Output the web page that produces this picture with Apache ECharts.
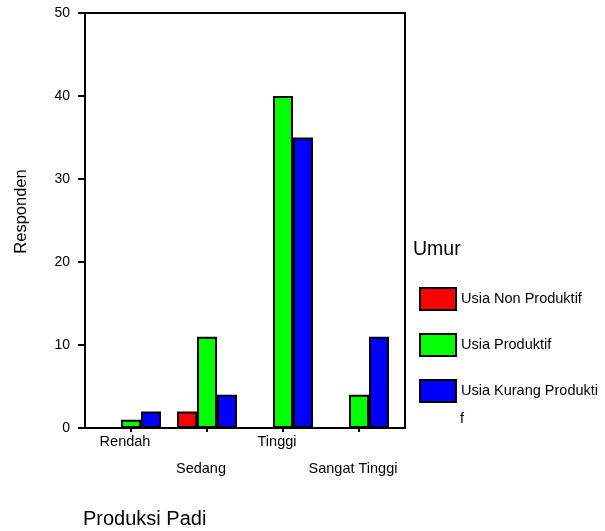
<!DOCTYPE html>
<html>
<head>
<meta charset="utf-8">
<script src="https://cdn.jsdelivr.net/npm/echarts@6/dist/echarts.min.js"></script>
<style>html,body{margin:0;padding:0;background:#fff}#c{width:605px;height:531px}</style>
</head>
<body>
<div id="c"></div>
<script>
const categories = ['Rendah', 'Sedang', 'Tinggi', 'Sangat Tinggi'];
const seriesNames = ['Usia Non Produktif', 'Usia Produktif', 'Usia Kurang Produktif'];
const nonProduktif = [0, 2, 0, 0];
const produktif = [1, 11, 40, 4];
const kurangProduktif = [2, 4, 35, 11];
const yMin = 0, yMax = 50, yStep = 10;
const colors = ['#ff0000', '#00ff00', '#0000ff'];
const values = [nonProduktif, produktif, kurangProduktif];

const FONT = "'Liberation Sans', Arial, sans-serif";
const chart = echarts.init(document.getElementById('c'), null, {renderer: 'canvas'});

const option = {
  backgroundColor: '#ffffff',
  animation: false,
  textStyle: {fontFamily: FONT, color: '#000'},
  title: [
    {text: 'Produksi Padi', left: 83, top: 509, padding: 0,
     textStyle: {fontFamily: FONT, fontSize: 20, fontWeight: 'normal', color: '#000'}},
    {text: 'Umur', left: 413, top: 240, padding: 0,
     textStyle: {fontFamily: FONT, fontSize: 19.5, fontWeight: 'normal', color: '#000'}}
  ],
  graphic: [
    {type: 'text', left: 460, top: 411,
     style: {text: 'f', font: "14.5px 'Liberation Sans', Arial, sans-serif", fill: '#000'}}
  ],
  legend: {
    orient: 'vertical',
    left: 419,
    top: 287,
    padding: 0,
    itemWidth: 36,
    itemHeight: 22,
    itemGap: 22,
    icon: 'rect',
    itemStyle: {borderColor: '#000', borderWidth: 2},
    textStyle: {fontFamily: FONT, fontSize: 14.5, color: '#000'},
    formatter: function (name) {
      return name === 'Usia Kurang Produktif' ? 'Usia Kurang Produkti' : name;
    },
    data: seriesNames
  },
  grid: [
    {left: 85, right: 200, top: 13, bottom: 103, show: true, borderColor: '#000', borderWidth: 2, backgroundColor: 'transparent'},
    {left: 93, right: 208, top: 13, bottom: 103}
  ],
  xAxis: [
    {gridIndex: 0, type: 'category', data: [''], show: false},
    {gridIndex: 1, type: 'category', data: categories,
     axisLine: {show: false},
     axisTick: {show: true, alignWithLabel: true, length: 4, lineStyle: {color: '#000', width: 2}},
     axisLabel: {
       interval: 0, fontFamily: FONT, fontSize: 14.5, lineHeight: 26.5, margin: 1, color: '#000',
       padding: [0, 12, 0, 0],
       formatter: function (v, i) { return i % 2 ? '\n' + v : v; }
     },
     splitLine: {show: false}}
  ],
  yAxis: [
    {gridIndex: 0, type: 'value', min: yMin, max: yMax, interval: yStep,
     name: 'Responden', nameLocation: 'middle', nameGap: 55, nameRotate: 90,
     nameTextStyle: {fontFamily: FONT, fontSize: 16.5, color: '#000', padding: [0, 0, 0, 18]},
     axisLine: {show: false},
     axisTick: {show: true, length: 7, lineStyle: {color: '#000', width: 2}},
     axisLabel: {fontFamily: FONT, fontSize: 14, color: '#000', margin: 15},
     splitLine: {show: false}},
    {gridIndex: 1, type: 'value', min: yMin, max: yMax, interval: yStep, show: false, splitLine: {show: false}}
  ],
  series: seriesNames.map(function (n, k) {
    return {
      name: n, type: 'bar', xAxisIndex: 1, yAxisIndex: 1,
      barWidth: 20, barGap: '0%',
      itemStyle: {color: colors[k], borderColor: '#000', borderWidth: 2},
      data: values[k]
    };
  })
};
chart.setOption(option);
</script>
</body>
</html>
